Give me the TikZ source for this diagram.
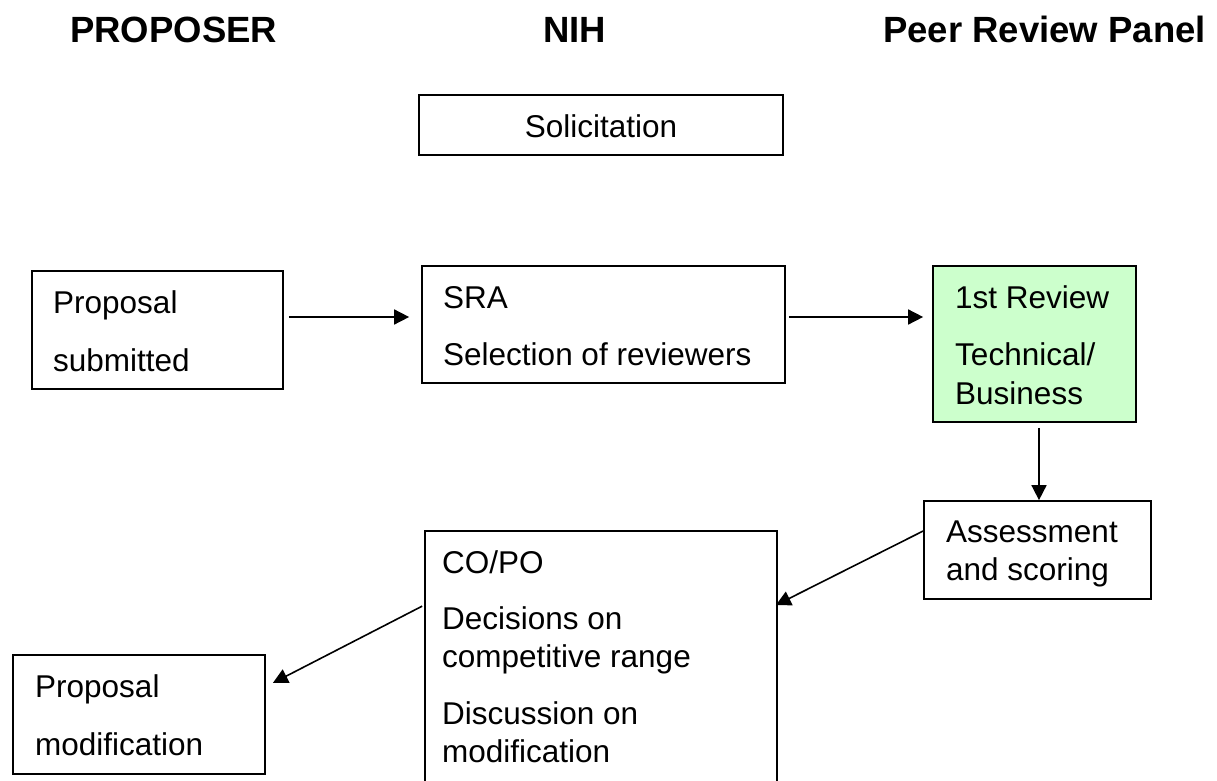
\documentclass[tikz,border=0pt]{standalone}
\usepackage{fontspec}
\setmainfont{Liberation Sans}
\usetikzlibrary{arrows.meta,calc}
\definecolor{revgreen}{RGB}{204,255,204}
\begin{document}
\begin{tikzpicture}[x=1pt,y=-1pt,
  box/.style={draw=black, line width=1.7pt, inner sep=0pt, rectangle},
  txt/.style={anchor=base west, inner sep=0pt, font=\fontsize{31.5}{38}\selectfont},
  hdr/.style={anchor=base west, inner sep=0pt, font=\fontsize{36.5}{42}\selectfont\bfseries},
  arr/.style={line width=1.6pt, -{Triangle[length=15pt,width=15pt]}}]
\clip (0,0) rectangle (1217,781);
\fill[white] (0,0) rectangle (1217,781);

% headers
\node[hdr] (hprop) at (70,43) {PROPOSER};
\node[hdr] (hnih) at (543,43) {NIH};
\node[hdr] (hpeer) at (883,43) {Peer Review Panel};

% boxes
\node[box, minimum width=364pt, minimum height=60pt] (sol) at (601,125) {};
\node[anchor=base, inner sep=0pt, font=\fontsize{31.5}{38}\selectfont] (soltxt) at (601,137) {Solicitation};

\node[box, minimum width=251pt, minimum height=118pt] (ps) at (157.5,330) {};
\node[txt] (ps1) at (53,313) {Proposal};
\node[txt] (ps2) at (53,371) {submitted};

\node[box, minimum width=363pt, minimum height=117pt] (sra) at (603.5,324.5) {};
\node[txt] (sra1) at (443,308) {SRA};
\node[txt] (sra2) at (443,365) {Selection of reviewers};

\node[box, fill=revgreen, minimum width=203pt, minimum height=156pt] (rev) at (1034.5,344) {};
\node[txt] (rev1) at (955,308) {1st Review};
\node[txt] (rev2) at (955,365) {Technical/};
\node[txt] (rev3) at (955,404) {Business};

\node[box, minimum width=227pt, minimum height=98pt] (ass) at (1037.5,550) {};
\node[txt] (ass1) at (946,542) {Assessment};
\node[txt] (ass2) at (946,580) {and scoring};

\node[box, minimum width=352pt, minimum height=289pt] (co) at (601,675.5) {};
\node[txt] (co1) at (442,573) {CO/PO};
\node[txt] (co2) at (442,629) {Decisions on};
\node[txt] (co3) at (442,667) {competitive range};
\node[txt] (co4) at (442,724) {Discussion on};
\node[txt] (co5) at (442,762) {modification};

\node[box, minimum width=252pt, minimum height=119pt] (pm) at (139,714.5) {};
\node[txt] (pm1) at (35,697) {Proposal};
\node[txt] (pm2) at (35,755) {modification};

% connectors
\draw[arr] ([xshift=5pt,yshift=13pt]ps.east) -- ([xshift=-12pt,yshift=13pt]ps.east -| sra.west);
\draw[arr] ([xshift=3pt,yshift=7.5pt]sra.east) -- ([xshift=-9pt,yshift=7.5pt]sra.east -| rev.west);
\draw[arr] ([xshift=4.5pt,yshift=-5pt]rev.south) -- ([xshift=4.5pt]rev.south |- ass.north);
\draw[arr] ([yshift=19pt]ass.west) -- ([xshift=-2pt,yshift=-75pt]co.north east);
\draw[arr] ([xshift=-2pt,yshift=-76pt]co.north west) -- ([xshift=7pt,yshift=31.5pt]pm.east);
\end{tikzpicture}
\end{document}
